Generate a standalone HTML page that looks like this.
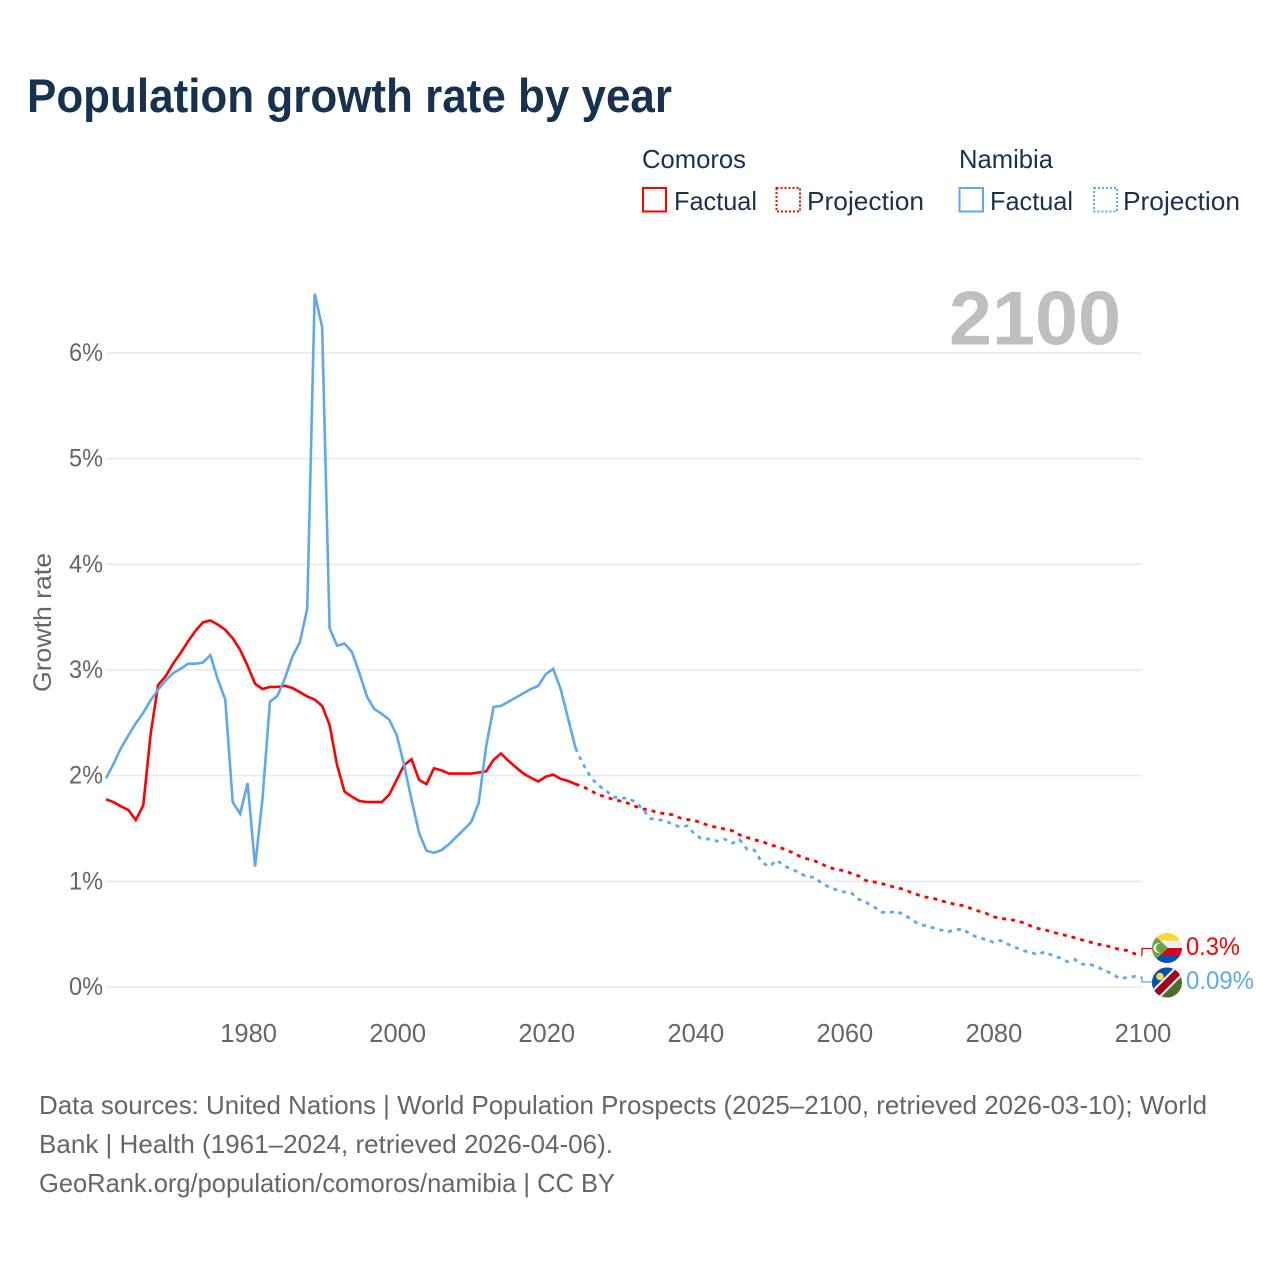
<!DOCTYPE html>
<html lang="en">
<head>
<meta charset="utf-8">
<title>Population growth rate by year</title>
<style>
html,body{margin:0;padding:0;background:#fff;}
svg{display:block;}
text{font-family:"Liberation Sans",sans-serif;}
</style>
</head>
<body>
<svg id="chart" xmlns="http://www.w3.org/2000/svg" width="1280" height="1280" viewBox="0 0 1280 1280">
  <rect width="1280" height="1280" fill="#ffffff"/>
  <defs>
    <clipPath id="flag-clip-km"><circle cx="1167" cy="948" r="15"/></clipPath>
    <clipPath id="flag-clip-na"><circle cx="1167" cy="982.5" r="15"/></clipPath>
  </defs>

  <text x="27" y="112" font-size="47" font-weight="700" fill="#17324f" textLength="645" lengthAdjust="spacingAndGlyphs">Population growth rate by year</text>

  <g font-size="26" fill="#1a3250">
    <text x="642" y="168" textLength="104" lengthAdjust="spacingAndGlyphs">Comoros</text>
    <text x="959" y="168" textLength="94" lengthAdjust="spacingAndGlyphs">Namibia</text>
    <rect x="643" y="188" width="23" height="23.5" fill="none" stroke="#ff0000" stroke-width="2"/>
    <text x="674" y="210" textLength="83" lengthAdjust="spacingAndGlyphs">Factual</text>
    <rect x="776.5" y="188" width="23.5" height="23.5" fill="none" stroke="#ff0000" stroke-width="2" stroke-dasharray="2 2"/>
    <text x="807" y="210" textLength="117" lengthAdjust="spacingAndGlyphs">Projection</text>
    <rect x="959.5" y="188" width="23.5" height="23.5" fill="none" stroke="#5fa8ee" stroke-width="2"/>
    <text x="990" y="210" textLength="83" lengthAdjust="spacingAndGlyphs">Factual</text>
    <rect x="1094" y="188" width="23" height="23.5" fill="none" stroke="#5fa8ee" stroke-width="2" stroke-dasharray="2 2"/>
    <text x="1123" y="210" textLength="117" lengthAdjust="spacingAndGlyphs">Projection</text>
  </g>

  <g id="grid"></g>
  <g id="y-ticks"></g>
  <g id="x-ticks"></g>

  <text transform="translate(51,692) rotate(-90)" font-size="25" fill="#666666" textLength="139" lengthAdjust="spacingAndGlyphs">Growth rate</text>

  <text x="949" y="344.5" font-size="76" font-weight="700" fill="#bfbfbf" textLength="172" lengthAdjust="spacingAndGlyphs">2100</text>

  <g id="series"></g>

  <g clip-path="url(#flag-clip-km)">
    <rect x="1152" y="933" width="30" height="8" fill="#fdd835"/>
    <rect x="1152" y="940.5" width="30" height="7.5" fill="#eeeeee"/>
    <rect x="1152" y="948" width="30" height="8" fill="#d80027"/>
    <rect x="1152" y="955.5" width="30" height="8.5" fill="#0052b4"/>
    <polygon points="1150,931 1168,948 1150,965" fill="#6da544"/>
    <circle cx="1158.5" cy="948" r="5" fill="#eeeeee"/>
    <circle cx="1160.5" cy="948" r="4.6" fill="#6da544"/>
  </g>
  <g clip-path="url(#flag-clip-na)">
    <rect x="1152" y="967" width="30" height="31" fill="#496e2d"/>
    <polygon points="1152,967 1182,967 1152,998" fill="#0052b4"/>
    <polygon points="1150,992 1176,966 1184,974 1158,1000" fill="#eeeeee"/>
    <polygon points="1150,995 1179,966 1184,971 1155,1000" fill="#a2001d"/>
    <circle cx="1160" cy="976.5" r="3.8" fill="#ffda44"/>
  </g>

  <g font-size="26" fill="#666666">
    <text x="39" y="1114" textLength="1168" lengthAdjust="spacingAndGlyphs">Data sources: United Nations | World Population Prospects (2025–2100, retrieved 2026-03-10); World</text>
    <text x="39" y="1153" textLength="574" lengthAdjust="spacingAndGlyphs">Bank | Health (1961–2024, retrieved 2026-04-06).</text>
    <text x="39" y="1192" textLength="576" lengthAdjust="spacingAndGlyphs">GeoRank.org/population/comoros/namibia | CC BY</text>
  </g>
</svg>

<script>
// ---- Chart data ----
const yTickValues = [0, 1, 2, 3, 4, 5, 6];
const yTickLabels = ["0%", "1%", "2%", "3%", "4%", "5%", "6%"];
const xTickYears = [1980, 2000, 2020, 2040, 2060, 2080, 2100];
const xTickLabels = ["1980", "2000", "2020", "2040", "2060", "2080", "2100"];

const factualFirstYear = 1961;
const projectionFirstYear = 2025;

// Comoros, 1961-2024
const comorosFactual = [
  1.776,1.75,1.71,1.675,1.58,1.72,2.40,2.86,2.94,3.06,
  3.16,3.27,3.37,3.45,3.47,3.43,3.38,3.30,3.19,3.04,
  2.87,2.82,2.84,2.84,2.85,2.83,2.79,2.75,2.72,2.66,
  2.48,2.10,1.85,1.80,1.76,1.75,1.75,1.75,1.82,1.96,
  2.10,2.155,1.96,1.92,2.07,2.05,2.02,2.02,2.02,2.02,
  2.03,2.04,2.15,2.21,2.14,2.08,2.02,1.98,1.945,1.99,
  2.01,1.97,1.95,1.92
];
// Comoros, 2025-2100
const comorosProjection = [
  1.895,1.86,1.82,1.80,1.776,1.76,
  1.74,1.71,1.685,1.675,1.65,1.64,1.63,1.60,1.585,1.575,
  1.55,1.525,1.51,1.495,1.48,1.44,1.415,1.39,1.38,1.345,
  1.33,1.305,1.275,1.24,1.215,1.195,1.165,1.13,1.115,1.10,
  1.075,1.05,1.005,0.995,0.98,0.96,0.94,0.925,0.895,0.87,
  0.85,0.84,0.815,0.80,0.78,0.77,0.745,0.72,0.70,0.665,
  0.65,0.64,0.63,0.61,0.58,0.555,0.54,0.52,0.50,0.485,
  0.465,0.445,0.425,0.405,0.395,0.375,0.355,0.345,0.315,0.30
];
// Namibia, 1961-2024
const namibiaFactual = [
  1.975,2.11,2.26,2.38,2.495,2.595,2.715,2.815,2.90,2.97,
  3.01,3.06,3.06,3.07,3.14,2.91,2.72,1.75,1.64,1.93,
  1.14,1.785,2.70,2.755,2.92,3.125,3.26,3.58,6.56,6.245,
  3.395,3.23,3.25,3.17,2.97,2.75,2.63,2.585,2.53,2.385,
  2.10,1.77,1.46,1.29,1.27,1.295,1.35,1.42,1.49,1.56,
  1.74,2.275,2.65,2.66,2.70,2.74,2.78,2.82,2.85,2.96,
  3.01,2.82,2.54,2.26
];
// Namibia, 2025-2100
const namibiaProjection = [
  2.11,1.99,1.91,1.865,1.80,1.785,
  1.79,1.75,1.685,1.595,1.585,1.575,1.54,1.515,1.525,1.445,
  1.40,1.40,1.38,1.40,1.36,1.395,1.305,1.295,1.18,1.14,
  1.20,1.145,1.115,1.085,1.04,1.04,0.985,0.945,0.92,0.90,
  0.89,0.83,0.80,0.76,0.71,0.70,0.72,0.685,0.645,0.595,
  0.58,0.56,0.54,0.525,0.54,0.55,0.495,0.47,0.45,0.425,
  0.44,0.405,0.375,0.345,0.33,0.305,0.335,0.295,0.275,0.24,
  0.26,0.215,0.215,0.19,0.155,0.125,0.08,0.09,0.10,0.09
];
const endLabelComoros = "0.3%";
const endLabelNamibia = "0.09%";

// ---- Axis functions ----
const NS = "http://www.w3.org/2000/svg";
function xScale(year) { return 106 + (year - 1961) * (1142 - 106) / (2100 - 1961); }
function yScale(value) { return 987 - value * (987 - 353) / 6; }

function linePath(values, firstYear, lead) {
  const parts = [];
  if (lead) { parts.push([xScale(lead.year), yScale(lead.value)]); }
  values.forEach(function (v, i) { parts.push([xScale(firstYear + i), yScale(v)]); });
  return "M" + parts.map(function (p) { return p[0].toFixed(2) + "," + p[1].toFixed(2); }).join("L");
}

// ---- Gridlines and ticks ----
const gridGroup = document.getElementById("grid");
const yTickGroup = document.getElementById("y-ticks");
const xTickGroup = document.getElementById("x-ticks");

yTickValues.forEach(function (v, i) {
  const line = document.createElementNS(NS, "line");
  
  
  line.setAttribute("x1", xScale(1961));
  line.setAttribute("x2", xScale(2100));
  line.setAttribute("y1", yScale(v));
  line.setAttribute("y2", yScale(v));
  line.setAttribute("stroke", "#e9e9e9");
  line.setAttribute("stroke-width", "1.5");
  gridGroup.appendChild(line);

  const label = document.createElementNS(NS, "text");
  
  
  label.setAttribute("x", 69);
  label.setAttribute("y", yScale(v) + 8);
  label.setAttribute("font-size", "25");
  label.setAttribute("fill", "#666666");
  label.setAttribute("textLength", "34");
  label.setAttribute("lengthAdjust", "spacingAndGlyphs");
  label.textContent = yTickLabels[i];
  yTickGroup.appendChild(label);
});

xTickYears.forEach(function (yr, i) {
  const label = document.createElementNS(NS, "text");
  
  
  label.setAttribute("x", xScale(yr) + 1);
  label.setAttribute("y", 1042);
  label.setAttribute("font-size", "25.5");
  label.setAttribute("fill", "#666666");
  label.setAttribute("text-anchor", "middle");
  label.textContent = xTickLabels[i];
  xTickGroup.appendChild(label);
});

// ---- Series ----
const seriesGroup = document.getElementById("series");

const comorosFactualLine = document.createElementNS(NS, "path");


comorosFactualLine.setAttribute("d", linePath(comorosFactual, factualFirstYear));
comorosFactualLine.setAttribute("fill", "none");
comorosFactualLine.setAttribute("stroke", "#ff0000");
comorosFactualLine.setAttribute("stroke-width", "2.6");
seriesGroup.appendChild(comorosFactualLine);

const comorosProjectionLine = document.createElementNS(NS, "path");


comorosProjectionLine.setAttribute("d", linePath(comorosProjection, projectionFirstYear, { year: 2024, value: comorosFactual[comorosFactual.length - 1] }));
comorosProjectionLine.setAttribute("fill", "none");
comorosProjectionLine.setAttribute("stroke", "#ff0000");
comorosProjectionLine.setAttribute("stroke-width", "2.8");
comorosProjectionLine.setAttribute("stroke-dasharray", "4 5");
seriesGroup.appendChild(comorosProjectionLine);

const namibiaFactualLine = document.createElementNS(NS, "path");


namibiaFactualLine.setAttribute("d", linePath(namibiaFactual, factualFirstYear));
namibiaFactualLine.setAttribute("fill", "none");
namibiaFactualLine.setAttribute("stroke", "#5fa8ee");
namibiaFactualLine.setAttribute("stroke-width", "2.6");
seriesGroup.appendChild(namibiaFactualLine);

const namibiaProjectionLine = document.createElementNS(NS, "path");


namibiaProjectionLine.setAttribute("d", linePath(namibiaProjection, projectionFirstYear, { year: 2024, value: namibiaFactual[namibiaFactual.length - 1] }));
namibiaProjectionLine.setAttribute("fill", "none");
namibiaProjectionLine.setAttribute("stroke", "#5fa8ee");
namibiaProjectionLine.setAttribute("stroke-width", "2.8");
namibiaProjectionLine.setAttribute("stroke-dasharray", "4 5");
seriesGroup.appendChild(namibiaProjectionLine);

// ---- End connectors and labels ----
const comorosEnd = comorosProjection[comorosProjection.length - 1];
const namibiaEnd = namibiaProjection[namibiaProjection.length - 1];

const comorosConnector = document.createElementNS(NS, "path");


comorosConnector.setAttribute("d", "M" + xScale(2100) + "," + yScale(comorosEnd) + "V948.5H1152");
comorosConnector.setAttribute("fill", "none");
comorosConnector.setAttribute("stroke", "#ff0000");
comorosConnector.setAttribute("stroke-width", "1.3");
seriesGroup.appendChild(comorosConnector);

const namibiaConnector = document.createElementNS(NS, "path");


namibiaConnector.setAttribute("d", "M" + xScale(2100) + "," + yScale(namibiaEnd) + "V982H1152");
namibiaConnector.setAttribute("fill", "none");
namibiaConnector.setAttribute("stroke", "#5fa8ee");
namibiaConnector.setAttribute("stroke-width", "1.3");
seriesGroup.appendChild(namibiaConnector);

const comorosEndLabel = document.createElementNS(NS, "text");


comorosEndLabel.setAttribute("x", 1186);
comorosEndLabel.setAttribute("y", 955);
comorosEndLabel.setAttribute("font-size", "25");
comorosEndLabel.setAttribute("fill", "#ff0000");
comorosEndLabel.setAttribute("textLength", "54");
comorosEndLabel.setAttribute("lengthAdjust", "spacingAndGlyphs");
comorosEndLabel.textContent = endLabelComoros;
seriesGroup.appendChild(comorosEndLabel);

const namibiaEndLabel = document.createElementNS(NS, "text");


namibiaEndLabel.setAttribute("x", 1186);
namibiaEndLabel.setAttribute("y", 989);
namibiaEndLabel.setAttribute("font-size", "25");
namibiaEndLabel.setAttribute("fill", "#5fa8ee");
namibiaEndLabel.setAttribute("textLength", "68");
namibiaEndLabel.setAttribute("lengthAdjust", "spacingAndGlyphs");
namibiaEndLabel.textContent = endLabelNamibia;
seriesGroup.appendChild(namibiaEndLabel);
</script>
</body>
</html>
